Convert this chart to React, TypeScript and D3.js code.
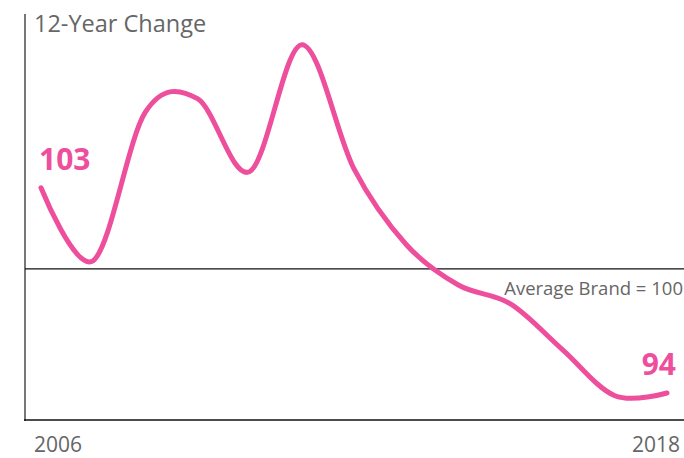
import React from "react";
import * as d3 from "d3";

const years = [2006, 2007, 2008, 2009, 2010, 2011, 2012, 2013, 2014, 2015, 2016, 2017, 2018];
const values = [103.0, 100.3, 105.8, 106.3, 103.6, 108.3, 103.7, 100.9, 99.4, 98.7, 97.0, 95.3, 95.4];
const endLabels = ["103", "94"];
const xTickLabels = ["2006", "2018"];
const baselineValue = 100;
const title = "12-Year Change";
const baselineLabel = "Average Brand = 100";

const W = 684;
const H = 458;
const PINK = "#ee4f9c";
const GRAY = "#666";
const FONT = "'Open Sans', Lato, sans-serif";

export default function App() {
  const x = d3.scaleLinear().domain([2006, 2018]).range([41, 667]);
  const y = d3.scaleLinear().domain([94.4, 109.4]).range([420, 15]);
  const line = d3
    .line<number>()
    .x((_, i) => x(years[i]))
    .y((d) => y(d))
    .curve(d3.curveCatmullRom.alpha(0));
  const yb = y(baselineValue);
  return (
    <svg width={W} height={H} style={{ position: "absolute", left: 0, top: 0 }} fontFamily={FONT}>
      <line x1={25} x2={25} y1={14} y2={421} stroke="#777" strokeWidth={2} />
      <line x1={24} x2={W} y1={420} y2={420} stroke="#111" strokeWidth={1.5} />
      <line x1={25} x2={W} y1={yb} y2={yb} stroke="#111" strokeWidth={1.2} />
      <text x={34} y={32} fontSize={23.5} fill={GRAY}>{title}</text>
      <text x={683} y={295} fontSize={18.5} fill={GRAY} textAnchor="end">{baselineLabel}</text>
      <path d={line(values) || ""} fill="none" stroke={PINK} strokeWidth={5} strokeLinecap="round" />
      <text x={39} y={170} fontSize={30} fontWeight={700} fill={PINK}>{endLabels[0]}</text>
      <text x={676} y={375} fontSize={30} fontWeight={700} fill={PINK} textAnchor="end">{endLabels[1]}</text>
      <text x={34} y={452} fontSize={21} fill={GRAY}>{xTickLabels[0]}</text>
      <text x={680} y={452} fontSize={21} fill={GRAY} textAnchor="end">{xTickLabels[1]}</text>
    </svg>
  );
}
